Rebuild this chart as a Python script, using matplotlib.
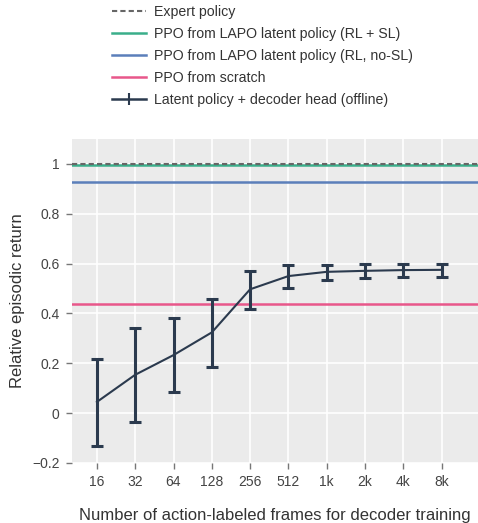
import numpy as np
import matplotlib.pyplot as plt
from matplotlib.lines import Line2D

plt.rcParams['font.family'] = ['Liberation Sans', 'DejaVu Sans']

# Data
frames = ['16', '32', '64', '128', '256', '512', '1k', '2k', '4k', '8k']
mean_ret = [0.045, 0.154, 0.233, 0.324, 0.497, 0.550, 0.567, 0.571, 0.574, 0.575]
upper = [0.218, 0.340, 0.380, 0.458, 0.572, 0.593, 0.596, 0.600, 0.597, 0.600]
lower = [-0.133, -0.035, 0.083, 0.187, 0.418, 0.501, 0.535, 0.541, 0.546, 0.547]

expert = 1.0
rl_sl = 0.997
rl_nosl = 0.928
scratch = 0.438

fig = plt.figure(figsize=(4.78, 5.23), dpi=100)
ax = fig.add_axes([72 / 478, (523 - 463) / 523, (478 - 72) / 478, (463 - 139) / 523])

ax.set_facecolor('#EBEBEB')
for s in ax.spines.values():
    s.set_visible(False)

x = np.arange(len(frames))
mean_ret = np.array(mean_ret)
yerr = [mean_ret - np.array(lower), np.array(upper) - mean_ret]

ax.axhline(rl_sl, color='#3AAE8A', lw=1.8, zorder=3)
ax.axhline(expert, color='#666666', lw=1.5, ls=(0, (2.5, 1.5)), zorder=4)
ax.axhline(rl_nosl, color='#5B7FBA', lw=1.8, zorder=3)
ax.axhline(scratch, color='#E8578A', lw=1.8, zorder=3)
ax.errorbar(x, mean_ret, yerr=yerr, color='#2B3A4E', lw=1.5, elinewidth=2.2,
            capsize=4, capthick=2.2, zorder=5)

ax.set_xlim(-0.65, 9.95)
ax.set_ylim(-0.2, 1.1)
ax.set_xticks(x)
ax.set_xticklabels(frames)
ax.set_yticks([-0.2, 0, 0.2, 0.4, 0.6, 0.8, 1.0])
ax.set_yticklabels(['\u22120.2', '0', '0.2', '0.4', '0.6', '0.8', '1'])
ax.grid(True, color='white', lw=1.2)
ax.set_axisbelow(True)
ax.tick_params(colors='#444444', labelsize=10, length=4, width=1, pad=5)
ax.tick_params(axis='both', color='#777777')

ax.set_xlabel('Number of action-labeled frames for decoder training',
              fontsize=12, color='#333333', labelpad=13)
ax.set_ylabel('Relative episodic return', fontsize=12, color='#333333', labelpad=5)

handles = [
    Line2D([], [], color='#666666', lw=1.5, ls=(0, (2.5, 1.5))),
    Line2D([], [], color='#3AAE8A', lw=1.8),
    Line2D([], [], color='#5B7FBA', lw=1.8),
    Line2D([], [], color='#E8578A', lw=1.8),
    Line2D([], [], color='#2B3A4E', lw=1.8, marker='|', markersize=9, markeredgewidth=1.5),
]
labels = ['Expert policy',
          'PPO from LAPO latent policy (RL + SL)',
          'PPO from LAPO latent policy (RL, no-SL)',
          'PPO from scratch',
          'Latent policy + decoder head (offline)']
fig.legend(handles, labels, loc='upper left', bbox_to_anchor=(99 / 478, 1.014),
           frameon=False, fontsize=10.2, handlelength=2.4, labelspacing=0.55,
           handletextpad=0.55, labelcolor='#333333')

fig.savefig('out.png', dpi=100)
